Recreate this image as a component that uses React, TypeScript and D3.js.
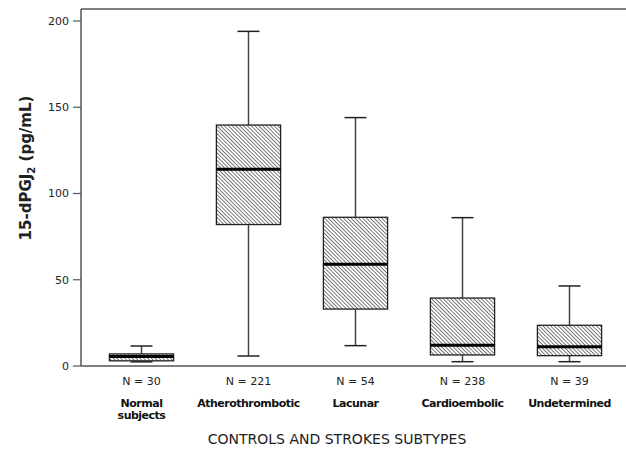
import React from 'react'
import * as d3 from 'd3'

const categories = ['Normal subjects', 'Atherothrombotic', 'Lacunar', 'Cardioembolic', 'Undetermined']
const labelLines = [['Normal', 'subjects'], ['Atherothrombotic'], ['Lacunar'], ['Cardioembolic'], ['Undetermined']]
const counts = [30, 221, 54, 238, 39]
const whiskerLow = [2.4, 5.8, 11.8, 2.5, 2.5]
const q1 = [3, 82, 33, 6.4, 6]
const medians = [5.5, 114, 59, 12, 11.2]
const q3 = [7, 139.7, 86.2, 39.4, 23.6]
const whiskerHigh = [11.6, 194, 144, 86, 46.4]
const yTicks = [0, 50, 100, 150, 200]

const W = 626
const H = 457
const left = 81
const top = 9
const bottom = 366

const App = () => {
  const x = d3.scaleBand<string>().domain(categories).range([88, 623]).paddingInner(0.4).paddingOuter(0.2)
  const y = d3.scaleLinear().domain([0, 200]).range([bottom, 21])
  const bw = x.bandwidth()
  const font = '"DejaVu Sans", Verdana, sans-serif'
  const hs = 2.7

  return (
    <svg width={W} height={H} style={{ position: 'absolute', left: 0, top: 0 }} fontFamily={font}>
      <defs>
        <pattern id="hatch" patternUnits="userSpaceOnUse" width={hs} height={hs} patternTransform="rotate(45)">
          <rect width={hs} height={hs} fill="#fff" />
          <line x1={0} y1={0} x2={hs} y2={0} stroke="#444" strokeWidth={1.4} />
        </pattern>
      </defs>
      <rect width={W} height={H} fill="#fff" />

      {/* frame */}
      <line x1={left} y1={top} x2={W} y2={top} stroke="#555" strokeWidth={1.5} />
      <line x1={left} y1={top} x2={left} y2={bottom} stroke="#555" strokeWidth={1.5} />
      <line x1={left} y1={bottom} x2={W} y2={bottom} stroke="#555" strokeWidth={1.5} />

      {yTicks.map(t => (
        <g key={t}>
          <line x1={left - 8} x2={left} y1={y(t)} y2={y(t)} stroke="#555" strokeWidth={1.2} />
          <text x={left - 12} y={y(t)} dy="0.35em" textAnchor="end" fontSize={11} fill="#222">{t}</text>
        </g>
      ))}

      <text transform={`translate(31,168) rotate(-90)`} textAnchor="middle" fontSize={15} fontWeight="bold" fill="#222">
        15-dPGJ<tspan fontSize={10} dy={4}>2</tspan><tspan dy={-4}> (pg/mL)</tspan>
      </text>

      {categories.map((c, i) => {
        const x0 = x(c) as number
        const cx = x0 + bw / 2
        const capW = 22
        return (
          <g key={c}>
            <line x1={cx} x2={cx} y1={y(whiskerHigh[i])} y2={y(q3[i])} stroke="#444" strokeWidth={1.5} />
            <line x1={cx} x2={cx} y1={y(q1[i])} y2={y(whiskerLow[i])} stroke="#444" strokeWidth={1.5} />
            <line x1={cx - capW / 2} x2={cx + capW / 2} y1={y(whiskerHigh[i])} y2={y(whiskerHigh[i])} stroke="#222" strokeWidth={1.5} />
            <line x1={cx - capW / 2} x2={cx + capW / 2} y1={y(whiskerLow[i])} y2={y(whiskerLow[i])} stroke="#222" strokeWidth={1.5} />
            <rect x={x0} y={y(q3[i])} width={bw} height={y(q1[i]) - y(q3[i])} fill="url(#hatch)" stroke="#222" strokeWidth={1.3} />
            <line x1={x0} x2={x0 + bw} y1={y(medians[i])} y2={y(medians[i])} stroke="#000" strokeWidth={3} />
            <text x={cx} y={385} textAnchor="middle" fontSize={11} fill="#222">N = {counts[i]}</text>
            {labelLines[i].map((l, j) => (
              <text key={j} x={cx} y={407 + j * 12} textAnchor="middle" fontSize={11} fontWeight="bold" fill="#111" letterSpacing={-0.5}>{l}</text>
            ))}
          </g>
        )
      })}

      <text x={337} y={444} textAnchor="middle" fontSize={14} fill="#222">CONTROLS AND STROKES SUBTYPES</text>
    </svg>
  )
}

export default App
